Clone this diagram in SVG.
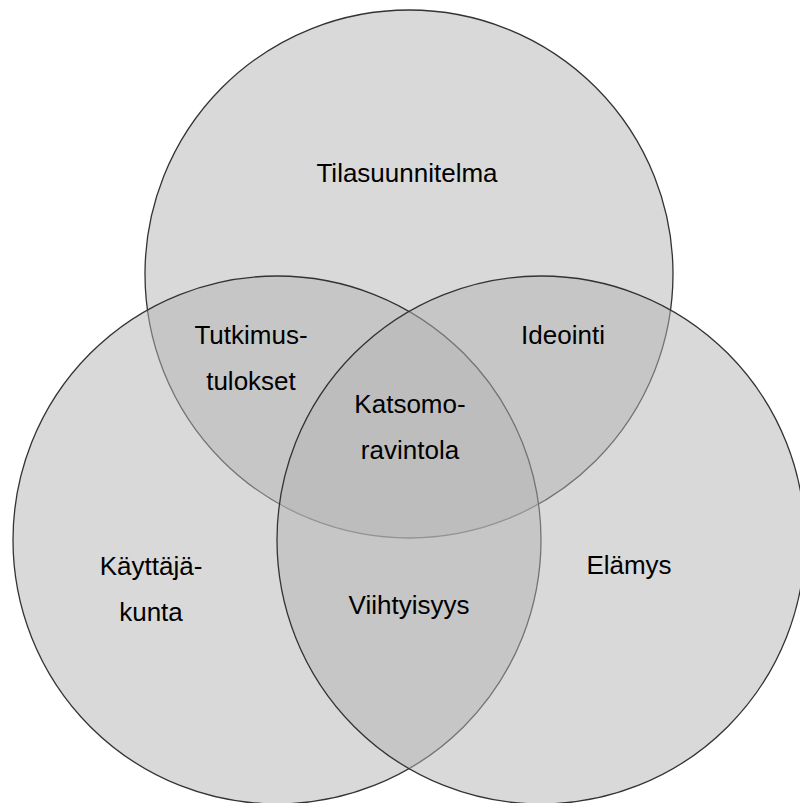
<svg xmlns="http://www.w3.org/2000/svg" width="800" height="803" viewBox="0 0 800 803">
<style>
.c{fill:#b3b3b3;fill-opacity:0.5;stroke:#333;stroke-width:1.3}
text{font-family:"Liberation Sans",Arial,sans-serif;font-size:26px;fill:#000;text-anchor:middle}
</style>
<rect width="800" height="803" fill="#fff"/>
<g id="circles">
<circle id="top" class="c" cx="409" cy="274" r="264"/>
<circle id="left" class="c" cx="277" cy="540" r="264"/>
<circle id="right" class="c" cx="541" cy="540" r="264"/>
</g>
<g id="labels">
<text x="407" y="182">Tilasuunnitelma</text>
<text x="251" y="344">Tutkimus-</text>
<text x="251" y="390">tulokset</text>
<text x="563" y="344">Ideointi</text>
<text x="410" y="413">Katsomo-</text>
<text x="410" y="459">ravintola</text>
<text x="151" y="575">Käyttäjä-</text>
<text x="151" y="621">kunta</text>
<text x="409" y="614">Viihtyisyys</text>
<text x="629" y="574">Elämys</text>
</g>
</svg>
